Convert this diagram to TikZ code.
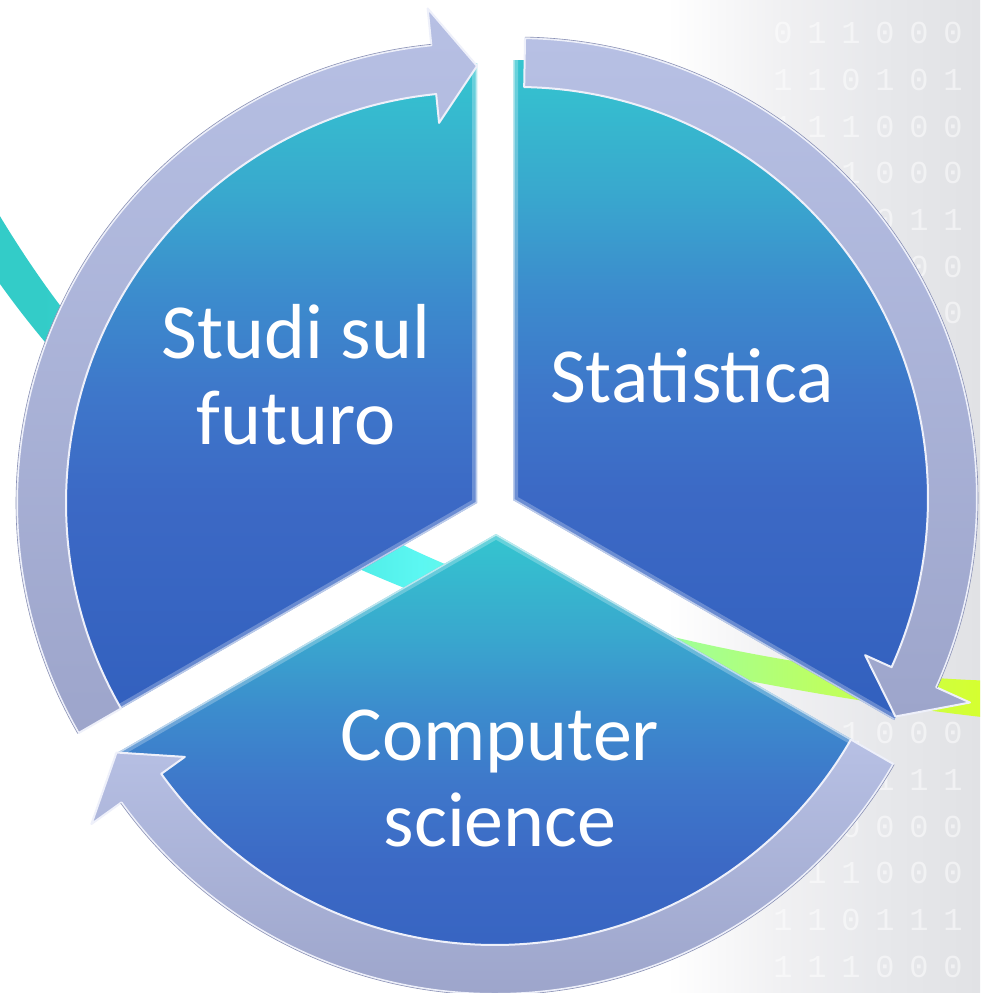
\documentclass[tikz,border=0pt]{standalone}
\usepackage{fontspec}
\setmainfont{Carlito}
\newfontfamily\bitfont{Liberation Mono}

% palette
\definecolor{segA}{HTML}{3260BE}
\definecolor{segB}{HTML}{3C69C5}
\definecolor{segC}{HTML}{3E77CA}
\definecolor{segD}{HTML}{3C8CCD}
\definecolor{segE}{HTML}{39A8CE}
\definecolor{segF}{HTML}{34C5CF}
\definecolor{ringT}{HTML}{B7C0E4}
\definecolor{ringB}{HTML}{9DA5CB}
\definecolor{ringRim}{HTML}{EEF0FA}
\definecolor{ringLine}{HTML}{8A91B5}
\definecolor{bgA}{HTML}{F0F0F2}
\definecolor{bgB}{HTML}{E7E8EB}
\definecolor{bgC}{HTML}{E1E2E5}
\definecolor{bandA}{HTML}{33CCC8}
\definecolor{bandB}{HTML}{45E4DE}
\definecolor{bandC}{HTML}{5CF7F2}
\definecolor{bandD}{HTML}{7DFDC0}
\definecolor{bandE}{HTML}{A4FF90}
\definecolor{bandF}{HTML}{C2FF58}
\definecolor{bandG}{HTML}{D8FF2A}

% shadings (the path's bounding box maps onto 25bp..75bp)
\pgfdeclareverticalshading{segfill}{100bp}{color(0bp)=(segA); color(25bp)=(segA);
  color(42bp)=(segB); color(50bp)=(segC); color(57.5bp)=(segD); color(65bp)=(segE);
  color(75bp)=(segF); color(100bp)=(segF)}
\pgfdeclareverticalshading{ringfill}{100bp}{color(0bp)=(ringB); color(25bp)=(ringB);
  color(75bp)=(ringT); color(100bp)=(ringT)}
\pgfdeclarehorizontalshading{bgfill}{100bp}{color(0bp)=(white); color(59bp)=(white);
  color(65bp)=(bgA); color(70bp)=(bgB); color(75bp)=(bgC); color(100bp)=(bgC)}
\pgfdeclarehorizontalshading{bandfill}{100bp}{color(0bp)=(bandA); color(28bp)=(bandA);
  color(40.7bp)=(bandB); color(46.6bp)=(bandC); color(55.4bp)=(bandD); color(60.3bp)=(bandE);
  color(67.6bp)=(bandF); color(75bp)=(bandG); color(100bp)=(bandG)}

% one pie segment: #1 vertex, #2 start angle, #3 end angle
\newcommand{\pieseg}[3]{%
  \begin{scope}[shift={(#1)}]
    \shade[shading=segfill] (0,0) -- (#2:440) arc[start angle=#2, end angle=#3, radius=440pt] -- cycle;
    \begin{scope}
      \clip (0,0) -- (#2:440) arc[start angle=#2, end angle=#3, radius=440pt] -- cycle;
      \draw[white, opacity=.25, line width=10pt, line join=miter] (#2:440) -- (0,0) -- (#3:440);
      \draw[white, opacity=.55, line width=3pt, line join=miter] (#2:440) -- (0,0) -- (#3:440);
    \end{scope}
  \end{scope}}

% one curved arrow: #1 centre, #2 tail angle, #3 tip angle (runs clockwise)
\newcommand{\cyclearrow}[3]{%
  \begin{scope}[shift={(#1)}]
    \shade[shading=ringfill] (#2:460) arc[start angle=#2, end angle=#3+5.7, radius=460pt]
      -- (#3+5.7:497) -- (#3:437) -- (#3+5.7:382) -- (#3+5.7:411)
      arc[start angle=#3+5.7, end angle=#2, radius=411pt] -- cycle;
    \draw[ringRim, line width=2pt, line join=round] (#2:460) arc[start angle=#2, end angle=#3+5.7, radius=460pt]
      -- (#3+5.7:497) -- (#3:437) -- (#3+5.7:382) -- (#3+5.7:411)
      arc[start angle=#3+5.7, end angle=#2, radius=411pt] -- cycle;
    \draw[ringLine, line width=.6pt] (#2:461) arc[start angle=#2, end angle=#3+5.7, radius=461pt];
  \end{scope}}

\tikzset{
  lbl/.style={text=white, font=\fontsize{78}{86}\selectfont, anchor=base, inner sep=0pt},
  bit/.style={text=white, opacity=.5, font=\bitfont\fontsize{32}{32}\selectfont, inner sep=0pt}
}

\begin{document}
\begin{tikzpicture}[x=1pt,y=1pt]
  \useasboundingbox (0,0) rectangle (980,-993);
  \clip (0,0) rectangle (980,-993);

  % backdrop: white fading into light grey on the right
  \shade[shading=bgfill] (0,0) rectangle (980,-993);

  % faint binary columns (row y / first column / digits)
  \foreach \yy/\cs/\ds [count=\r] in {
      33/1/{0,1,1,0,0,0}, 80/1/{1,1,0,1,0,1}, 127/1/{1,1,1,0,0,0}, 173/3/{1,0,0,0},
      220/4/{0,1,1}, 267/5/{0,0}, 313/6/{0},
      733/3/{1,0,0,0}, 780/4/{1,1,1}, 827/3/{0,0,0,0}, 873/2/{1,1,0,0,0},
      920/1/{1,1,0,1,1,1}, 967/1/{1,1,1,0,0,0}}{
    \foreach \d [count=\c from \cs] in \ds {
      \node[bit] (bit-\r-\c) at ({749+34*\c},{-\yy}) {\d};
    }
  }

  % sweeping ribbon behind the cycle
  \shade[shading=bandfill] (-20,-182) .. controls (120,-430) and (260,-500) .. (403,-545)
    .. controls (540,-612) and (780,-676) .. (1000,-681) -- (1000,-719)
    .. controls (820,-700) and (560,-650) .. (402,-587)
    .. controls (250,-525) and (110,-450) .. (-20,-255) -- cycle;

  % the three segments
  \pieseg{477,-503}{90}{210}
  \pieseg{513,-500}{90}{-30}
  \pieseg{496,-534}{210}{330}

  % the three curved arrows
  \cyclearrow{477,-503}{210}{90}
  \cyclearrow{517,-498}{89}{-30}
  \cyclearrow{495,-534}{330}{210}

  % labels
  \node[lbl] (futA) at (296,-358) {Studi sul};
  \node[lbl] (futB) at (296,-444) {futuro};
  \node[lbl] (stat) at (692,-402) {Statistica};
  \node[lbl] (compA) at (500,-760) {Computer};
  \node[lbl] (compB) at (500,-846) {science};
\end{tikzpicture}
\end{document}
